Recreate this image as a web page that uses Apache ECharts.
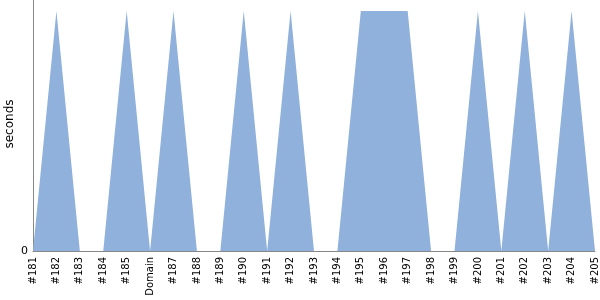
<!DOCTYPE html>
<html><head><meta charset="utf-8">
<script src="https://cdn.jsdelivr.net/npm/echarts@6/dist/echarts.min.js"></script>
<style>html,body{margin:0;padding:0;background:#fff}#c{width:600px;height:300px}</style>
</head><body><div id="c"></div>
<script>
const categories = ['#181','#182','#183','#184','#185','Domain','#187','#188','#189','#190','#191','#192','#193','#194','#195','#196','#197','#198','#199','#200','#201','#202','#203','#204','#205'];
const seconds = [0,1,0,0,1,0,1,0,0,1,0,1,0,0,1,1,1,0,0,1,0,1,0,1,0];
const yTicks = [0];
const yName = 'seconds';
const chart = echarts.init(document.getElementById('c'), null, {renderer:'canvas'});
chart.setOption({
  animation:false,
  grid:{left:33,right:5,top:0,bottom:49,containLabel:false,outerBoundsMode:'none'},
  graphic:[{type:'text',x:10,y:124,rotation:Math.PI/2,
    style:{text:yName,fill:'#000',font:'12px "DejaVu Sans"',align:'center',verticalAlign:'middle'}}],
  xAxis:{type:'category',data:categories,boundaryGap:false,
    axisLine:{lineStyle:{color:'#888',width:1}},axisTick:{show:false},
    axisLabel:{rotate:90,color:'#000',fontSize:10,fontFamily:'DejaVu Sans',margin:6,interval:0}},
  yAxis:{type:'value',min:0,max:1.0458,interval:1.0458,
    axisLine:{show:true,lineStyle:{color:'#888'}},axisTick:{show:false},splitLine:{show:false},
    axisLabel:{color:'#000',fontSize:11,fontFamily:'DejaVu Sans',margin:5,formatter:v=>yTicks.includes(v)?String(v):''}},
  series:[{type:'line',data:seconds,showSymbol:false,symbol:'none',lineStyle:{width:0},
    areaStyle:{color:'#8fb1db',opacity:1}}]
});
</script></body></html>
